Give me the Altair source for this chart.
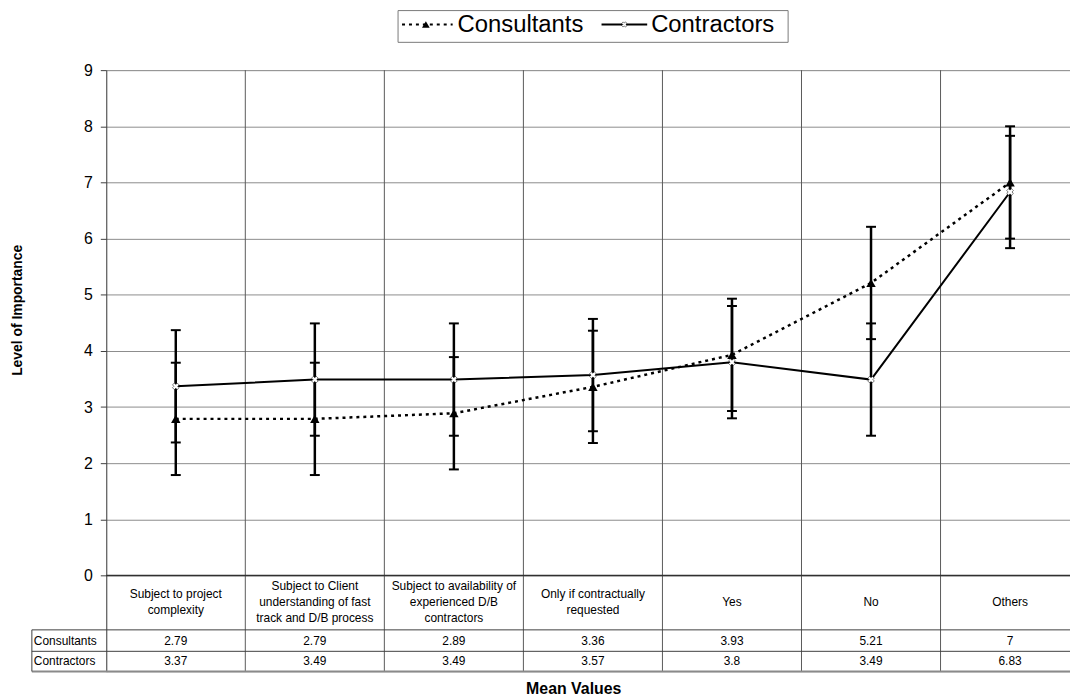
import altair as alt
import pandas as pd

# ---- data ----
categories = [
    "Subject to project\ncomplexity",
    "Subject to Client\nunderstanding of fast\ntrack and D/B process",
    "Subject to availability of\nexperienced D/B\ncontractors",
    "Only if contractually\nrequested",
    "Yes",
    "No",
    "Others",
]
consultants = [2.79, 2.79, 2.89, 3.36, 3.93, 5.21, 7]
contractors = [3.37, 3.49, 3.49, 3.57, 3.8, 3.49, 6.83]
consultants_err = [1, 1, 1, 1, 1, 1, 1]
contractors_err = [1, 1, 1, 1, 1, 1, 1]
series_names = ["Consultants", "Contractors"]
y_ticks = [0, 1, 2, 3, 4, 5, 6, 7, 8, 9]

# ---- layout constants (data units) ----
X_MAX = 6.931           # visible part of the 7 category columns
Y_MIN, Y_MAX = -1.71, 9  # table sits below 0
PLOT_H = 606
PX_PER_UNIT = PLOT_H / (Y_MAX - Y_MIN)
LINE_H = 16
ROW_CAT = -0.468
ROW_CONS = -1.16
ROW_CONT = -1.53
LINE_1, LINE_2, LINE_3 = -0.967, -1.349, -1.707
LABEL_LEFT = -0.535
FONT = "Liberation Sans"

rows = []
for i, cat in enumerate(categories):
    for name, vals, errs in [(series_names[0], consultants, consultants_err),
                             (series_names[1], contractors, contractors_err)]:
        v = vals[i]
        rows.append(dict(cat=cat, pos=i + 0.5, series=name, value=v,
                         lo=v - errs[i], hi=v + errs[i], label=str(v)))
df = pd.DataFrame(rows)
cat_df = pd.DataFrame({
    "cat": categories,
    "pos": [i + 0.5 for i in range(len(categories))],
    "ty": [ROW_CAT + (c.count("\n")) * LINE_H / 2 / PX_PER_UNIT for c in categories],
})
bounds_df = pd.DataFrame({"b": list(range(1, len(categories)))})
tick_df = pd.DataFrame({"t": y_ticks})
tline_df = pd.DataFrame({"ty": [LINE_1, LINE_2, LINE_3], "w": [1, 1, 2], "c": ["#404040", "#404040", "#8a8a8a"]})
one = pd.DataFrame({"k": [0]})

xs = alt.Scale(domain=[0, X_MAX], nice=False, zero=False)
ys = alt.Scale(domain=[Y_MIN, Y_MAX], nice=False, zero=False)

# y axis + horizontal grid
grid = alt.Chart(tick_df).mark_point(opacity=0).encode(
    x=alt.X(datum=0, scale=xs, axis=None),
    y=alt.Y("t:Q", scale=ys, axis=alt.Axis(
        values=y_ticks, format="d", grid=True, gridColor="#8c8c8c", gridWidth=1,
        domainColor="#404040", domainWidth=1, tickColor="#404040", tickSize=6,
        labelPadding=8, labelFontSize=16, labelFont=FONT, labelColor="black",
        title=None)),
)

vlines = alt.Chart(bounds_df).mark_rule(color="#5a5a5a", strokeWidth=1).encode(
    x=alt.X("b:Q", scale=xs, axis=None),
    y=alt.Y(datum=Y_MAX, scale=ys),
    y2=alt.Y2(datum=Y_MIN),
)

zero_line = alt.Chart(one).mark_rule(color="#303030", strokeWidth=1.5).encode(
    x=alt.X(datum=0, scale=xs), x2=alt.X2(datum=X_MAX + 0.1),
    y=alt.Y(datum=0, scale=ys),
)

tlines = alt.Chart(tline_df).mark_rule().encode(
    x=alt.X(datum=LABEL_LEFT, scale=xs), x2=alt.X2(datum=X_MAX + 0.1),
    y=alt.Y("ty:Q", scale=ys),
    strokeWidth=alt.StrokeWidth("w:Q", scale=None),
    color=alt.Color("c:N", scale=None),
)

label_col = alt.Chart(one).mark_rule(color="#404040", strokeWidth=1).encode(
    x=alt.X(datum=LABEL_LEFT, scale=xs),
    y=alt.Y(datum=LINE_1, scale=ys), y2=alt.Y2(datum=LINE_3),
)

errbars = alt.Chart(df).mark_rule(color="black", strokeWidth=2.5).encode(
    x=alt.X("pos:Q", scale=xs), y=alt.Y("lo:Q", scale=ys), y2="hi:Q",
)
cap_lo = alt.Chart(df).mark_tick(orient="horizontal", color="black", size=10, thickness=2, opacity=1).encode(
    x=alt.X("pos:Q", scale=xs), y=alt.Y("lo:Q", scale=ys),
)
cap_hi = alt.Chart(df).mark_tick(orient="horizontal", color="black", size=10, thickness=2, opacity=1).encode(
    x=alt.X("pos:Q", scale=xs), y=alt.Y("hi:Q", scale=ys),
)

cons_line = alt.Chart(df).transform_filter(alt.datum.series == series_names[0]).mark_line(
    color="black", strokeWidth=2.5, strokeDash=[3, 4]).encode(
    x=alt.X("pos:Q", scale=xs), y=alt.Y("value:Q", scale=ys))
cont_line = alt.Chart(df).transform_filter(alt.datum.series == series_names[1]).mark_line(
    color="black", strokeWidth=2).encode(
    x=alt.X("pos:Q", scale=xs), y=alt.Y("value:Q", scale=ys))
cons_pts = alt.Chart(df).transform_filter(alt.datum.series == series_names[0]).mark_point(
    shape="triangle-up", filled=True, color="black", size=90, opacity=1).encode(
    x=alt.X("pos:Q", scale=xs), y=alt.Y("value:Q", scale=ys))
cont_pts = alt.Chart(df).transform_filter(alt.datum.series == series_names[1]).mark_point(
    shape="cross", angle=45, filled=True, fill="white", stroke="black", strokeWidth=0.5,
    size=45, opacity=1).encode(
    x=alt.X("pos:Q", scale=xs), y=alt.Y("value:Q", scale=ys))

cat_text = alt.Chart(cat_df).mark_text(
    fontSize=12, font=FONT, lineBreak="\n", lineHeight=LINE_H, align="center", baseline="middle", color="black"
).encode(x=alt.X("pos:Q", scale=xs), y=alt.Y("ty:Q", scale=ys), text="cat:N")

cons_vals = alt.Chart(df).transform_filter(alt.datum.series == series_names[0]).mark_text(
    fontSize=12, font=FONT, align="center", baseline="middle", color="black"
).encode(x=alt.X("pos:Q", scale=xs), y=alt.Y(datum=ROW_CONS, scale=ys), text="label:N")
cont_vals = alt.Chart(df).transform_filter(alt.datum.series == series_names[1]).mark_text(
    fontSize=12, font=FONT, align="center", baseline="middle", color="black"
).encode(x=alt.X("pos:Q", scale=xs), y=alt.Y(datum=ROW_CONT, scale=ys), text="label:N")

row_labels = alt.Chart(pd.DataFrame({"s": series_names, "ry": [ROW_CONS, ROW_CONT]})).mark_text(
    fontSize=12, font=FONT, align="left", baseline="middle", color="black", dx=2
).encode(x=alt.X(datum=LABEL_LEFT, scale=xs), y=alt.Y("ry:Q", scale=ys), text="s:N")

# titles
y_title = alt.Chart(one).mark_text(
    text="Level of Importance", fontSize=14, fontWeight="bold", font=FONT, angle=270,
    align="center", baseline="middle", color="black"
).encode(x=alt.value(-89), y=alt.value(242))
x_title = alt.Chart(one).mark_text(
    text="Mean Values", fontSize=16, fontWeight="bold", font=FONT,
    align="center", baseline="middle", color="black"
).encode(x=alt.value(471), y=alt.value(624))

# legend (manual)
leg_box = alt.Chart(one).mark_rect(fill="white", stroke="#7a7a7a", strokeWidth=1).encode(
    x=alt.value(294), x2=alt.value(687), y=alt.value(-60), y2=alt.value(-28))
leg_l1 = alt.Chart(one).mark_rule(color="black", strokeWidth=2, strokeDash=[3, 4]).encode(
    x=alt.value(298), x2=alt.value(349), y=alt.value(-46))
leg_p1 = alt.Chart(one).mark_point(shape="triangle-up", filled=True, color="black", size=60, opacity=1).encode(
    x=alt.value(322), y=alt.value(-46))
leg_t1 = alt.Chart(one).mark_text(text=series_names[0], fontSize=24, font=FONT, align="left",
                                  baseline="middle", color="black").encode(x=alt.value(354), y=alt.value(-45))
leg_l2 = alt.Chart(one).mark_rule(color="black", strokeWidth=2).encode(
    x=alt.value(499), x2=alt.value(545), y=alt.value(-46))
leg_p2 = alt.Chart(one).mark_point(shape="cross", angle=45, filled=True, fill="white", stroke="black",
                                   strokeWidth=0.5, size=28, opacity=1).encode(x=alt.value(522), y=alt.value(-46))
leg_t2 = alt.Chart(one).mark_text(text=series_names[1], fontSize=24, font=FONT, align="left",
                                  baseline="middle", color="black").encode(x=alt.value(549), y=alt.value(-45))

chart = alt.layer(
    grid, vlines, zero_line, tlines, label_col,
    errbars, cap_lo, cap_hi, cons_line, cont_line, cons_pts, cont_pts,
    cat_text, cons_vals, cont_vals, row_labels, y_title, x_title,
    leg_box, leg_l1, leg_p1, leg_t1, leg_l2, leg_p2, leg_t2,
).properties(
    width=971, height=PLOT_H,
    autosize=alt.AutoSizeParams(type="none"),
    padding={"left": 99, "top": 60, "right": 0, "bottom": 24},
    background="white",
).configure_view(strokeWidth=0).configure(font=FONT)

chart.save("out.html", embed_options={"renderer": "svg", "actions": False})
